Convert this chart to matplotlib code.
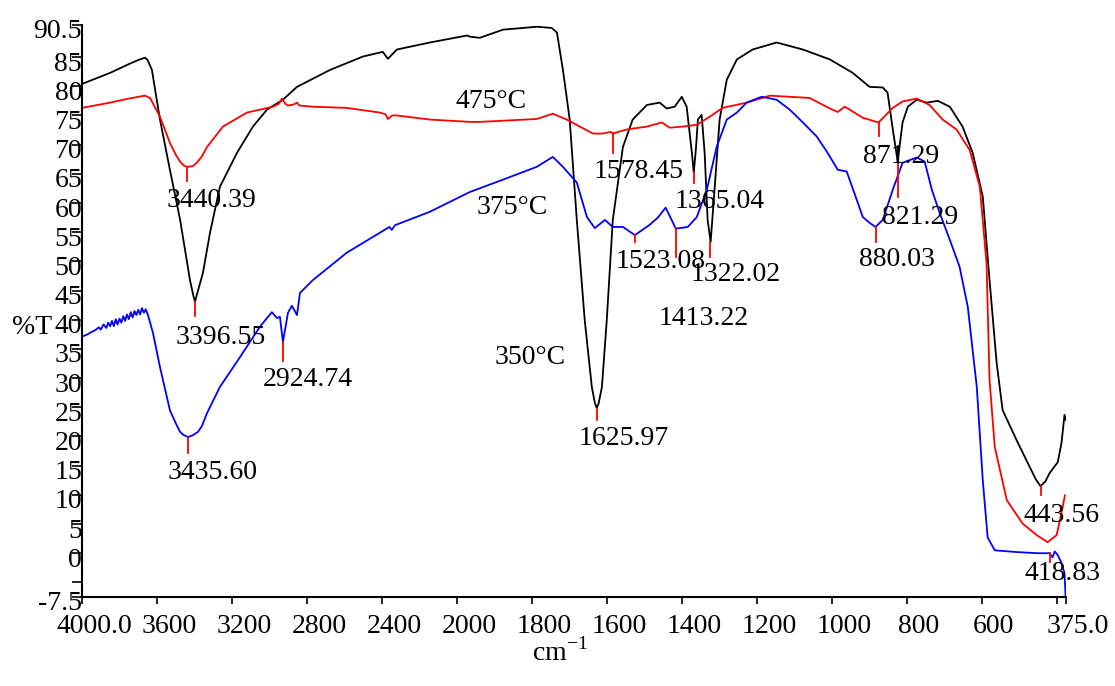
import numpy as np
import matplotlib
matplotlib.use("Agg")
import matplotlib.pyplot as plt
from matplotlib.ticker import FixedLocator, FixedFormatter
from matplotlib.transforms import ScaledTranslation

plt.rcParams['font.family'] = ['Liberation Serif', 'DejaVu Serif']
plt.rcParams['mathtext.fontset'] = 'custom'
plt.rcParams['mathtext.rm'] = 'Liberation Serif'

# ---------------- data ----------------
black_wn = [4000, 3850, 3750, 3700, 3664, 3650, 3627, 3584, 3531, 3477, 3424, 3405, 3397, 3388,
            3355, 3317, 3264, 3173, 3088, 3013, 2928, 2853, 2677, 2501, 2395, 2368, 2320, 2144,
            1973, 1965, 1939, 1877, 1787, 1747, 1733, 1717, 1699, 1680, 1659, 1640, 1632, 1627,
            1622, 1613, 1600, 1584, 1557, 1531, 1493, 1459, 1440, 1419, 1400, 1387, 1373, 1368,
            1362, 1357, 1347, 1339, 1331, 1323, 1312, 1299, 1280, 1253, 1211, 1147, 1077, 1005,
            944, 899, 864, 851, 837, 824, 811, 797, 773, 747, 717, 685, 651, 624, 597, 579, 560,
            544, 507, 472, 455, 443, 430, 419, 397, 387, 379, 375]
black_t = [80.4, 82.3, 83.8, 84.5, 84.9, 84.5, 82.8, 74.3, 65.7, 57.2, 46.8, 44.0, 43.1, 44.2,
           48.0, 54.9, 62.8, 68.6, 73.1, 76.0, 77.7, 79.9, 82.8, 85.1, 85.9, 84.7, 86.3, 87.5,
           88.7, 88.5, 88.3, 89.7, 90.2, 90.0, 89.2, 82.8, 74.3, 57.1, 40.0, 28.5, 25.8, 24.9,
           25.6, 28.5, 40.0, 57.1, 69.6, 74.3, 76.8, 77.2, 76.2, 76.5, 78.2, 76.5, 68.6, 65.2,
           69.5, 74.3, 75.1, 68.6, 57.1, 53.3, 62.8, 74.3, 81.1, 84.6, 86.3, 87.5, 86.3, 84.6,
           82.3, 79.9, 79.8, 78.9, 72.6, 67.1, 73.8, 76.5, 77.7, 77.2, 77.5, 76.5, 73.1, 68.6,
           61.1, 46.8, 32.6, 24.5, 19.4, 14.8, 12.6, 11.5, 12.3, 13.7, 15.6, 18.9, 23.7, 22.8]

red_wn = [4000, 3850, 3750, 3664, 3637, 3584, 3531, 3500, 3477, 3460, 3440, 3410, 3387, 3360,
          3333, 3248, 3120, 2981, 2950, 2933, 2915, 2901, 2870, 2853, 2840, 2768, 2587, 2411,
          2380, 2368, 2345, 2320, 2144, 1965, 1939, 1787, 1744, 1707, 1672, 1637, 1610, 1590,
          1584, 1547, 1493, 1453, 1432, 1397, 1360, 1325, 1291, 1227, 1165, 1059, 1005, 984,
          965, 952, 917, 875, 837, 811, 773, 739, 704, 667, 632, 605, 587, 579, 565, 533, 491,
          453, 424, 400, 387, 378]
red_t = [76.3, 77.2, 77.9, 78.4, 78.0, 74.8, 70.3, 68.3, 67.1, 66.5, 66.2, 66.3, 66.9, 68.0,
         69.6, 73.1, 75.5, 76.5, 77.0, 77.9, 77.0, 76.7, 76.9, 77.2, 76.7, 76.5, 76.3, 75.5,
         75.2, 74.4, 75.0, 75.0, 74.3, 73.9, 73.9, 74.4, 75.3, 74.3, 73.1, 71.9, 71.9, 72.2,
         71.9, 72.6, 73.1, 73.8, 72.9, 73.1, 73.4, 74.8, 76.3, 77.2, 78.4, 78.0, 76.2, 75.6,
         76.5, 76.0, 74.6, 73.8, 76.3, 77.4, 77.9, 76.8, 74.3, 72.6, 69.1, 62.8, 49.7, 29.7,
         18.2, 9.1, 5.1, 3.1, 1.9, 3.1, 6.9, 9.9]

blue_wn = [4000, 3970, 3950, 3930, 3910, 3900, 3885, 3870, 3860, 3850, 3840, 3830, 3820, 3810,
           3800, 3790, 3780, 3770, 3760, 3750, 3740, 3730, 3720, 3710, 3700, 3690, 3680, 3670,
           3660, 3648, 3621, 3584, 3531, 3500, 3477, 3460, 3435, 3410, 3381, 3360, 3333, 3264,
           3157, 3051, 2987, 2960, 2944, 2928, 2901, 2880, 2853, 2837, 2768, 2587, 2411, 2360,
           2347, 2330, 2144, 1965, 1877, 1787, 1744, 1717, 1680, 1653, 1632, 1605, 1584, 1557,
           1525, 1485, 1464, 1443, 1427, 1416, 1384, 1360, 1333, 1307, 1280, 1253, 1227, 1187,
           1147, 1112, 1077, 1040, 1011, 984, 960, 933, 917, 899, 883, 864, 837, 811, 773, 752,
           733, 712, 685, 659, 637, 613, 597, 584, 565, 507, 450, 419, 411, 405, 397, 387, 379,
           376]
blue_t = [37.1, 37.5, 37.9, 38.2, 38.7, 38.3, 39.2, 38.6, 39.5, 38.9, 39.8, 38.9, 40.1, 39.2,
          40.2, 39.5, 40.6, 39.8, 40.9, 40.1, 41.3, 40.4, 41.5, 40.8, 41.7, 40.9, 42.0, 41.2,
          41.8, 40.8, 37.7, 31.9, 24.5, 22.3, 20.8, 20.3, 19.9, 20.2, 20.8, 21.8, 24.0, 28.5,
          33.6, 38.8, 41.3, 40.3, 40.5, 36.2, 41.2, 42.4, 40.8, 44.6, 46.8, 51.5, 54.9, 55.9,
          55.4, 56.2, 58.5, 61.9, 64.0, 66.2, 67.9, 66.2, 63.5, 57.6, 55.7, 57.1, 55.9, 55.9,
          54.5, 56.3, 57.5, 59.2, 57.1, 55.6, 55.9, 57.6, 62.3, 69.6, 74.3, 75.5, 77.2, 78.2,
          77.7, 76.0, 73.8, 71.4, 68.6, 65.7, 65.4, 60.5, 57.6, 56.6, 55.9, 57.1, 62.3, 66.9,
          67.8, 67.1, 62.3, 58.3, 53.7, 49.1, 42.2, 28.5, 12.5, 2.7, 0.5, 0.2, 0.0, 0.0, -0.7,
          0.3, -0.3, -1.7, -3.4, -7.5]

# peak markers: wavenumber, top, bottom
mark_wn = [3440, 3397, 3435, 2928, 1584, 1368, 1525, 1416, 1325, 1627, 875, 824, 883, 443, 419]
mark_top = [66.2, 43.1, 19.7, 36.2, 72.0, 65.4, 54.5, 55.7, 53.3, 24.7, 73.8, 67.1, 55.9, 11.5, 0.0]
mark_bot = [63.8, 40.7, 17.2, 32.9, 68.6, 63.5, 53.3, 50.8, 50.8, 22.8, 71.4, 61.1, 53.3, 9.9, -1.5]

# peak labels: text, wavenumber (centre), %T (centre)
lab_text = ['3440.39', '3396.55', '3435.60', '2924.74', '1578.45', '1365.04', '1523.08',
            '1322.02', '1413.22', '1625.97', '871.29', '821.29', '880.03', '443.56', '418.83']
lab_wn = [3307, 3259, 3301, 2795, 1515, 1299, 1456, 1256, 1341, 1555, 816, 765, 827, 387, 384]
lab_t = [60.5, 37.0, 13.9, 29.7, 65.4, 60.2, 49.9, 47.7, 40.3, 19.7, 67.9, 57.6, 50.3, 6.5, -3.4]

temp_text = ['475°C', '375°C', '350°C']
temp_wn = [1909, 1853, 1805]
temp_t = [77.4, 59.3, 33.6]

xticks = [4000, 3600, 3200, 2800, 2400, 2000, 1800, 1600, 1400, 1200, 1000, 800, 600, 400, 375]
xtick_labels = ['4000.0', '3600', '3200', '2800', '2400', '2000', '1800', '1600', '1400',
                '1200', '1000', '800', '600', '', '375.0']
yticks = [-7.5, -5, 0, 5, 10, 15, 20, 25, 30, 35, 40, 45, 50, 55, 60, 65, 70, 75, 80, 85, 90.5]
ytick_labels = ['-7.5', '', '0', '5', '10', '15', '20', '25', '30', '35', '40', '45', '50',
                '55', '60', '65', '70', '75', '80', '85', '90.5']

# ---------------- plot ----------------
FS = 20
fig = plt.figure(figsize=(11.15, 6.86), dpi=100)
ax = fig.add_axes([82 / 1115, 89 / 686, 984 / 1115, 572 / 686])


def fwd(w):
    w = np.asarray(w, dtype=float)
    return np.where(w >= 2000, w, 2 * w - 2000)


def inv(u):
    u = np.asarray(u, dtype=float)
    return np.where(u >= 2000, u, (u + 2000) / 2)


ax.set_xscale('function', functions=(fwd, inv))
ax.set_xlim(4000, 375)
ax.set_ylim(-7.5, 90.5)

ax.plot(black_wn, black_t, color='black', lw=1.3)
ax.plot(red_wn, red_t, color='#ff0000', lw=1.3)
ax.plot(blue_wn, blue_t, color='#0000ff', lw=1.3)

for w, t, b in zip(mark_wn, mark_top, mark_bot):
    ax.plot([w, w], [t, b], color='#ff0000', lw=1.3)

for s, w, t in zip(lab_text, lab_wn, lab_t):
    ax.text(w, t, s, fontsize=FS, ha='center', va='center')
for s, w, t in zip(temp_text, temp_wn, temp_t):
    ax.text(w, t, s, fontsize=FS, ha='center', va='center')

ax.spines['top'].set_visible(False)
ax.spines['right'].set_visible(False)
ax.spines['left'].set_linewidth(1.5)
ax.spines['bottom'].set_linewidth(1.5)

ax.xaxis.set_major_locator(FixedLocator(xticks))
ax.xaxis.set_major_formatter(FixedFormatter(xtick_labels))
ax.xaxis.set_minor_locator(FixedLocator([]))
ax.yaxis.set_major_locator(FixedLocator(yticks))
ax.yaxis.set_major_formatter(FixedFormatter(ytick_labels))
ax.yaxis.set_minor_locator(FixedLocator([]))
ax.tick_params(axis='x', direction='out', length=5, width=1.2, labelsize=FS, pad=7)
ax.tick_params(axis='y', direction='out', length=7, width=1.2, labelsize=FS, pad=-7)

offx = ScaledTranslation(12 / 100, 0, fig.dpi_scale_trans)
for lbl in ax.get_xticklabels():
    lbl.set_transform(lbl.get_transform() + offx)
offy = ScaledTranslation(0, -4 / 100, fig.dpi_scale_trans)
for lbl in ax.get_yticklabels():
    lbl.set_transform(lbl.get_transform() + offy)

fig.text(12 / 1115, 1 - 328 / 686, '%T', fontsize=FS, ha='left', va='center')
fig.text(560 / 1115, 1 - 652 / 686, r'cm$^{\mathregular{-1}}$', fontsize=FS, ha='center', va='center')

fig.savefig('out.png', dpi=100)
